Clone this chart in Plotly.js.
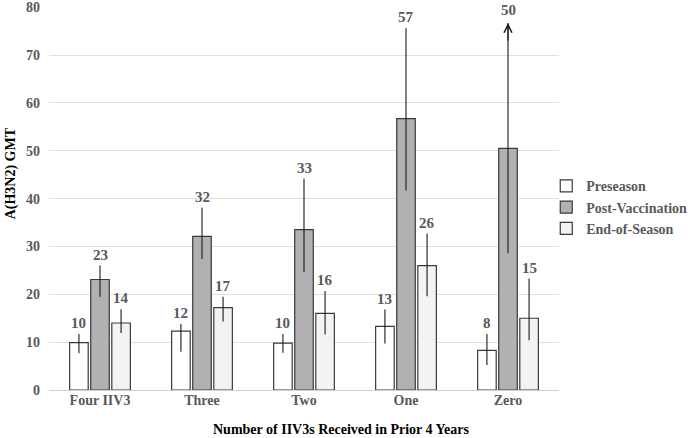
<!DOCTYPE html>
<html>
<head>
<meta charset="utf-8">
<script src="https://cdn.plot.ly/plotly-3.0.1.min.js"></script>
<style>html,body{margin:0;padding:0;background:#fff;}#chart{width:699px;height:438px;}</style>
</head>
<body>
<div id="chart"></div>
<script>
// ---- data ----
const categories = ["Four IIV3", "Three", "Two", "One", "Zero"];
const seriesNames = ["Preseason", "Post-Vaccination", "End-of-Season"];

const preValues  = [9.9, 12.3, 9.8, 13.3, 8.3];
const preUpper   = [11.7, 13.8, 11.7, 16.8, 11.7];
const preLower   = [7.7, 8.0, 7.8, 9.7, 5.2];
const preLabels  = ["10", "12", "10", "13", "8"];

const postValues = [23.1, 32.1, 33.5, 56.7, 50.5];
const postUpper  = [26.0, 38.1, 44.2, 75.6, 76.7];
const postLower  = [19.5, 27.4, 24.6, 41.7, 28.6];
const postLabels = ["23", "32", "33", "57", "50"];
const postArrow  = [false, false, false, false, true];

const endValues  = [14.0, 17.2, 16.0, 26.0, 15.0];
const endUpper   = [16.9, 19.5, 20.7, 32.7, 23.3];
const endLower   = [11.9, 14.3, 11.6, 19.6, 10.4];
const endLabels  = ["14", "17", "16", "26", "15"];

const yTicks = [0, 10, 20, 30, 40, 50, 60, 70, 80];

// ---- styling ----
const FONT = "Liberation Serif, Times New Roman, serif";
const GRAY_TXT = "#595959";
const fills = ["#ffffff", "#b1b1b3", "#f3f3f3"];
const BARGAP = 0.38;

const groups = [
  {v: preValues, hi: preUpper, lo: preLower, lab: preLabels},
  {v: postValues, hi: postUpper, lo: postLower, lab: postLabels},
  {v: endValues, hi: endUpper, lo: endLower, lab: endLabels}
];

const traces = groups.map((g, j) => ({
  type: "bar",
  name: seriesNames[j],
  x: categories,
  y: g.v,
  marker: {color: fills[j], line: {color: "#3a3a3a", width: 1.2}},
  error_y: {
    type: "data", symmetric: false,
    array: g.hi.map((h, i) => h - g.v[i]),
    arrayminus: g.v.map((v, i) => v - g.lo[i]),
    color: "#1a1a1a", thickness: 1.1, width: 0
  },
  hoverinfo: "skip"
}));

const annotations = [];
const slot = (1 - BARGAP) / 3;
groups.forEach((g, j) => {
  g.v.forEach((v, i) => {
    annotations.push({
      x: i + (j - 1) * slot, y: g.hi[i], xref: "x", yref: "y",
      text: g.lab[i], showarrow: false,
      yanchor: "bottom", yshift: (j === 1 && postArrow[i]) ? 3 : 1,
      font: {family: FONT, size: 15, color: GRAY_TXT, weight: "bold"}
    });
  });
});
postArrow.forEach((a, i) => {
  if (a) {
    annotations.push({
      x: i, y: postUpper[i], xref: "x", yref: "y",
      ax: i, ay: postUpper[i] - 4, axref: "x", ayref: "y",
      showarrow: true, arrowhead: 5, arrowsize: 1.3, arrowwidth: 1.2,
      arrowcolor: "#1a1a1a", text: ""
    });
  }
});
// axis titles
annotations.push({
  xref: "paper", yref: "paper", x: -0.075, y: 0.565, textangle: -90,
  text: "A(H3N2) GMT", showarrow: false, xanchor: "center", yanchor: "middle",
  font: {family: FONT, size: 14, color: "#000", weight: "bold"}
});
annotations.push({
  xref: "paper", yref: "paper", x: 0.574, y: -0.104,
  text: "Number of IIV3s Received in Prior 4 Years", showarrow: false,
  xanchor: "center", yanchor: "middle",
  font: {family: FONT, size: 14, color: "#000", weight: "bold"}
});

const layout = {
  width: 699, height: 438,
  margin: {l: 49, r: 133, t: 7, b: 48},
  paper_bgcolor: "#fff", plot_bgcolor: "#fff",
  barmode: "group", bargap: BARGAP, bargroupgap: 0.12,
  showlegend: true,
  legend: {
    x: 0.975, xanchor: "left", y: 0.477, yanchor: "middle",
    font: {family: FONT, size: 14, color: GRAY_TXT, weight: "bold"},
    itemwidth: 30, bgcolor: "rgba(0,0,0,0)"
  },
  xaxis: {
    type: "category", tickfont: {family: FONT, size: 14, color: GRAY_TXT, weight: "bold"},
    showgrid: false, zeroline: false, showline: false, ticks: ""
  },
  yaxis: {
    range: [0, 80.05], tickvals: yTicks,
    tickfont: {family: FONT, size: 14, color: GRAY_TXT, weight: "bold"},
    showgrid: true, gridcolor: "#e0e0e0", gridwidth: 1,
    zeroline: true, zerolinecolor: "#d0d0d0", zerolinewidth: 1,
    showline: false, ticks: "", ticklabelstandoff: 8, ticklabeloverflow: "allow"
  },
  annotations: annotations
};

Plotly.newPlot("chart", traces, layout, {staticPlot: true, displayModeBar: false});
</script>
</body>
</html>
